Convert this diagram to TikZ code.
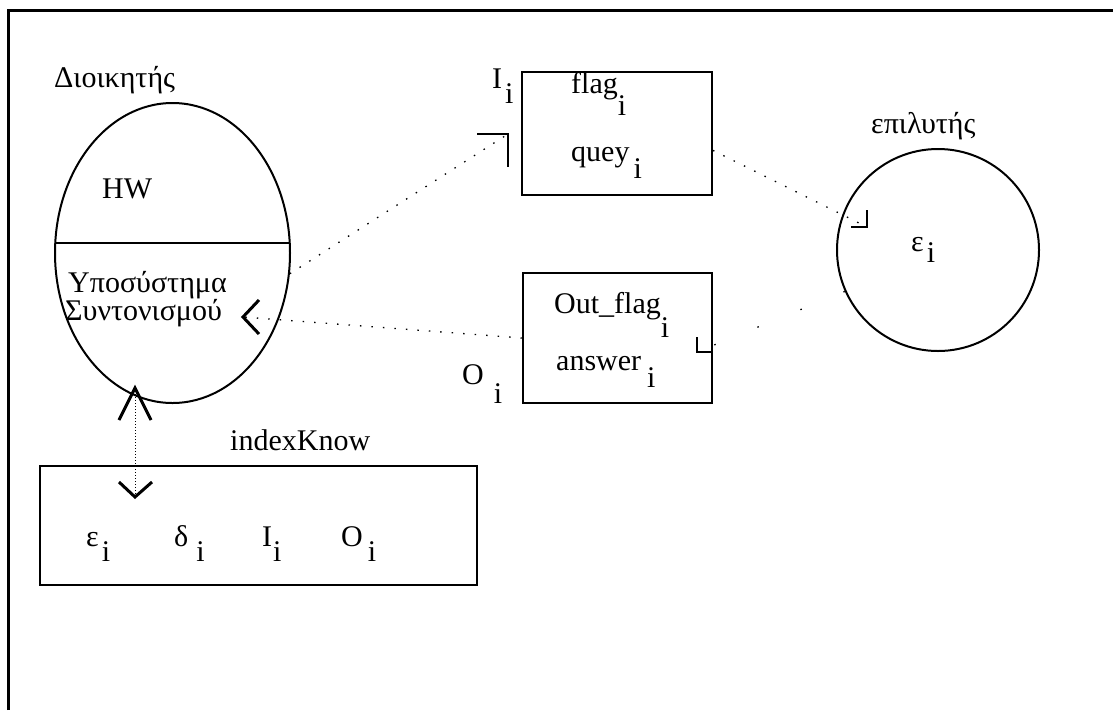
\documentclass[tikz,border=0pt]{standalone}
\usepackage{fontspec}
\setmainfont{Liberation Serif}
\usetikzlibrary{shapes.geometric,calc}
% lowered index letter
\newcommand{\sublow}[2]{\raisebox{-#1pt}{#2}}
\begin{document}
\begin{tikzpicture}[x=1pt,y=-1pt,
  txt/.style={anchor=base west,inner sep=0pt,font=\fontsize{30}{32}\selectfont},
  outline/.style={draw,line width=2pt,inner sep=0pt},
  frameline/.style={line width=3pt},
  conn/.style={line width=1.3pt,dash pattern=on 1.5pt off 10pt},
  sparse/.style={line width=1.3pt,dash pattern=on 1.5pt off 45pt},
  fine/.style={line width=1pt,dash pattern=on 1pt off 2pt},
  chev/.style={line width=3pt},
  corner/.style={line width=2pt}]
\useasboundingbox (0,0) rectangle (1113,710);

% outer frame
\draw[frameline] (8,710) -- (8,10) -- (1113,10);

% manager
\node[outline,ellipse,minimum width=235pt,minimum height=300pt] (mgr) at (172.5,253) {};
\draw[outline] ($(mgr.center)+(-117.2,-10)$) -- ($(mgr.center)+(117.2,-10)$);
\node[txt] (mgrlbl) at (54,87) {Διοικητής};
\node[txt] (hw) at (102,198) {HW};
\node[txt] (coord1) at (68,292) {Υποσύστημα};
\node[txt] (coord2) at (65,320) {Συντονισμού};

% input buffer
\node[outline,rectangle,minimum width=190pt,minimum height=123pt] (boxI) at (617,133.5) {};
\node[txt] (flag) at (571,93) {flag\sublow{22}{i}};
\node[txt] (quey) at (571,161) {quey\hspace{4pt}\sublow{17}{i}};
\node[txt] (ilbl) at (492,88) {I\hspace{3pt}\sublow{15}{i}};

% output buffer
\node[outline,rectangle,minimum width=189pt,minimum height=130pt] (boxO) at (617.5,338) {};
\node[txt] (oflag) at (554,313) {Out\_flag\sublow{24}{i}};
\node[txt] (answer) at (556,370) {answer\hspace{6pt}\sublow{17}{i}};
\node[txt] (olbl) at (462,384) {O\hspace{10pt}\sublow{19}{i}};

% solver
\node[outline,circle,minimum size=202pt] (solver) at (938,250) {};
\node[txt] (slvlbl) at (871,133) {επιλυτής};
\node[txt] (eps) at (911,251) {ε\hspace{3pt}\sublow{11}{i}};

% knowledge index
\node[outline,rectangle,minimum width=437pt,minimum height=119pt] (idx) at (258.5,525.5) {};
\node[txt] (idxlbl) at (230,450) {indexKnow};
\node[txt] (ie) at (86,546) {ε\hspace{3pt}\sublow{15}{i}};
\node[txt] (id) at (174,546) {δ\hspace{8pt}\sublow{15}{i}};
\node[txt] (ii) at (262,546) {I\hspace{1pt}\sublow{15}{i}};
\node[txt] (io) at (341,546) {O\hspace{5pt}\sublow{15}{i}};

% manager -> input buffer
\coordinate (tipI) at (508,134);
\draw[conn] (mgr.-10.5) -- (tipI);
\draw[corner] (477,134) -- (tipI) -- (508,167);

% input buffer -> solver
\coordinate (tipS) at (867,227);
\draw[conn] (boxI.-10) -- (tipS);
\draw[corner] (851,227) -- (tipS) -- (867,210);

% solver -> output buffer
\coordinate (tipO) at (697,352);
\draw[sparse] (solver.204) -- (tipO);
\draw[corner] (697,337) -- (tipO) -- (711,352);

% output buffer -> manager
\coordinate (tipM) at (243,317);
\draw[conn] (boxO.west) -- (tipM);
\draw[chev] (259,300) -- (tipM) -- (259,334);

% manager <-> knowledge index
\coordinate (tipUp) at (135,388);
\coordinate (tipDn) at (135,497);
\draw[fine] (tipUp) -- (tipDn);
\draw[chev] (119,420) -- (tipUp) -- (151,420);
\draw[chev] (119,482) -- (tipDn) -- (152,482);
\end{tikzpicture}
\end{document}
